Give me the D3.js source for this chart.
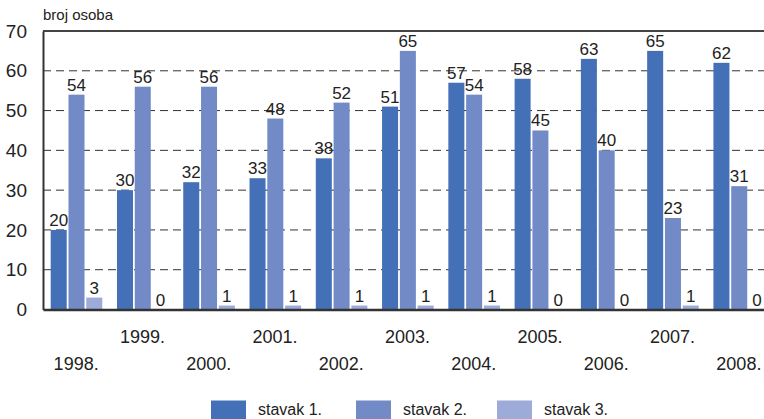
<!DOCTYPE html>
<html><head><meta charset="utf-8">
<script src="https://cdn.jsdelivr.net/npm/d3@7"></script>
<style>
html,body{margin:0;padding:0;background:#fff;overflow:hidden}
text{font-family:"Liberation Sans",Arial,sans-serif;fill:#222}
</style></head>
<body><svg id="c" width="764" height="419"></svg>
<script>
const years = ["1998.","1999.","2000.","2001.","2002.","2003.","2004.","2005.","2006.","2007.","2008."];
const seriesNames = ["stavak 1.","stavak 2.","stavak 3."];
const stavak1 = [20,30,32,33,38,51,57,58,63,65,62];
const stavak2 = [54,56,56,48,52,65,54,45,40,23,31];
const stavak3 = [3,0,1,1,1,1,1,0,0,1,0];
const yTicks = [0,10,20,30,40,50,60,70];
const colors = ["#4470b8","#728ac6","#9dabd8"];

const series = [stavak1, stavak2, stavak3];
const svg = d3.select("#c");
const pLeft = 43, pBottom = 309.5, pTop = 31;

const y = d3.scaleLinear().domain([0,70]).range([pBottom, pTop]);
const x0 = d3.scaleBand().domain(years).range([pLeft, 772]);
const x1 = d3.scaleBand().domain([0,1,2]).range([7.7, 59.3]).paddingInner(0.1);

// grid
svg.append("g").selectAll("line").data(yTicks.filter(t => t > 0 && t < 70)).join("line")
  .attr("x1", pLeft).attr("x2", 764).attr("y1", d => y(d)).attr("y2", d => y(d))
  .attr("stroke", "#333").attr("stroke-width", 1).attr("stroke-dasharray", "8,5");

// bars
const g = svg.append("g");
years.forEach((yr, i) => {
  series.forEach((s, k) => {
    const v = s[i];
    const bx = x0(yr) + x1(k);
    if (v > 0) {
      g.append("rect").attr("x", bx).attr("y", y(v)).attr("width", x1.bandwidth())
        .attr("height", pBottom - y(v)).attr("fill", colors[k]);
    }
    g.append("text").attr("x", bx + x1.bandwidth()/2).attr("y", y(v) - 4)
      .attr("text-anchor", "middle").attr("font-size", 17).text(v);
  });
});

// top border
svg.append("line").attr("x1", pLeft).attr("x2", 764).attr("y1", pTop).attr("y2", pTop)
  .attr("stroke", "#444").attr("stroke-width", 2);

// y axis
const yAxis = d3.axisLeft(y).tickValues(yTicks).tickSize(0).tickPadding(16);
const ya = svg.append("g").attr("transform", `translate(${pLeft},0)`).call(yAxis);
ya.select(".domain").attr("stroke", "#333").attr("stroke-width", 2);
ya.selectAll("text").attr("font-size", 19).style("fill", "#222")
  .attr("font-family", null);

// x axis
const xAxis = d3.axisBottom(x0).tickSize(0).tickFormat(d => d);
const xa = svg.append("g").attr("transform", `translate(0,${pBottom})`).call(xAxis);
xa.select(".domain").attr("stroke", "#333").attr("stroke-width", 2.5);
xa.selectAll("text").attr("font-size", 18).attr("font-family", null)
  .attr("dy", null).attr("y", (d, i) => i % 2 === 0 ? 60 : 33);

// title
svg.append("text").attr("x", 43).attr("y", 20).attr("font-size", 15).text("broj osoba");

// legend
const legX = [211, 356, 497];
seriesNames.forEach((n, k) => {
  svg.append("rect").attr("x", legX[k]).attr("y", 400.5).attr("width", 35).attr("height", 19).attr("fill", colors[k]);
  svg.append("text").attr("x", legX[k] + 47).attr("y", 414.5).attr("font-size", 16).text(n);
});
</script></body></html>
